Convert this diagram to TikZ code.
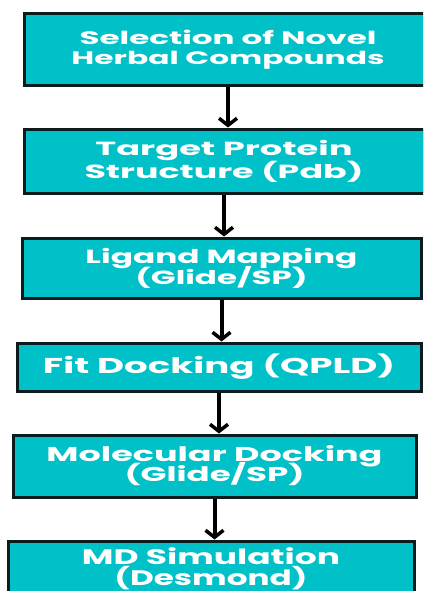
\documentclass[tikz,border=0pt]{standalone}
\usepackage{fontspec}
\setmainfont{Poppins}
\usetikzlibrary{arrows.meta}
\definecolor{boxfill}{HTML}{00C1C7}
\definecolor{boxline}{HTML}{0C1C1E}
\newcommand{\wl}[2]{\resizebox{#1pt}{\height}{#2}}
\newcommand{\fs}[2]{\bfseries\fontsize{#1}{#2}\selectfont\lineskiplimit=-100pt\lineskip=0pt}
\tikzset{
  box/.style={draw=boxline, fill=boxfill, line width=3pt, rectangle, inner sep=0pt,
    text=white, align=center},
  arr/.style={draw=black, line width=4pt, -{Straight Barb[length=7pt,width=18pt,line width=3.5pt]}}
}
\begin{document}
\begin{tikzpicture}[x=1pt,y=-1pt]
\useasboundingbox (0,0) rectangle (423,591);
\clip (0,0) rectangle (423,591);
\node[box, minimum width=408pt, minimum height=72pt, font=\fs{18}{20}] (b1) at (228,50)
  {\wl{297}{Selection of Novel}\\\wl{313}{Herbal Compounds}};
\node[box, minimum width=400pt, minimum height=64pt, font=\fs{19}{23}] (b2) at (224,161)
  {\wl{257}{Target Protein}\\\wl{279}{Structure (Pdb)}};
\node[box, minimum width=399pt, minimum height=60pt, font=\fs{19}{21}] (b3) at (221.5,268)
  {\wl{272}{Ligand Mapping}\\\wl{172}{(Glide/SP)}};
\node[box, minimum width=404pt, minimum height=48pt, font=\fs{21.5}{24}] (b4) at (219,367)
  {\wl{352}{Fit Docking (QPLD)}};
\node[box, minimum width=403pt, minimum height=62pt, font=\fs{20}{20}] (b5) at (214.5,466)
  {\wl{336}{Molecular Docking}\\\wl{180}{(Glide/SP)}};
\node[box, minimum width=406pt, minimum height=56pt, font=\fs{21}{21}] (b6) at (211,569)
  {\wl{258}{MD Simulation}\\\wl{193}{(Desmond)}};
\draw[arr] (b1.south) -- (b1.south |- b2.north);
\draw[arr] (b2.south) -- (b2.south |- b3.north);
\draw[arr] (b3.south) -- (b3.south |- b4.north);
\draw[arr] (b4.south) -- (b4.south |- b5.north);
\draw[arr] (b5.south) -- (b5.south |- b6.north);
\end{tikzpicture}
\end{document}
